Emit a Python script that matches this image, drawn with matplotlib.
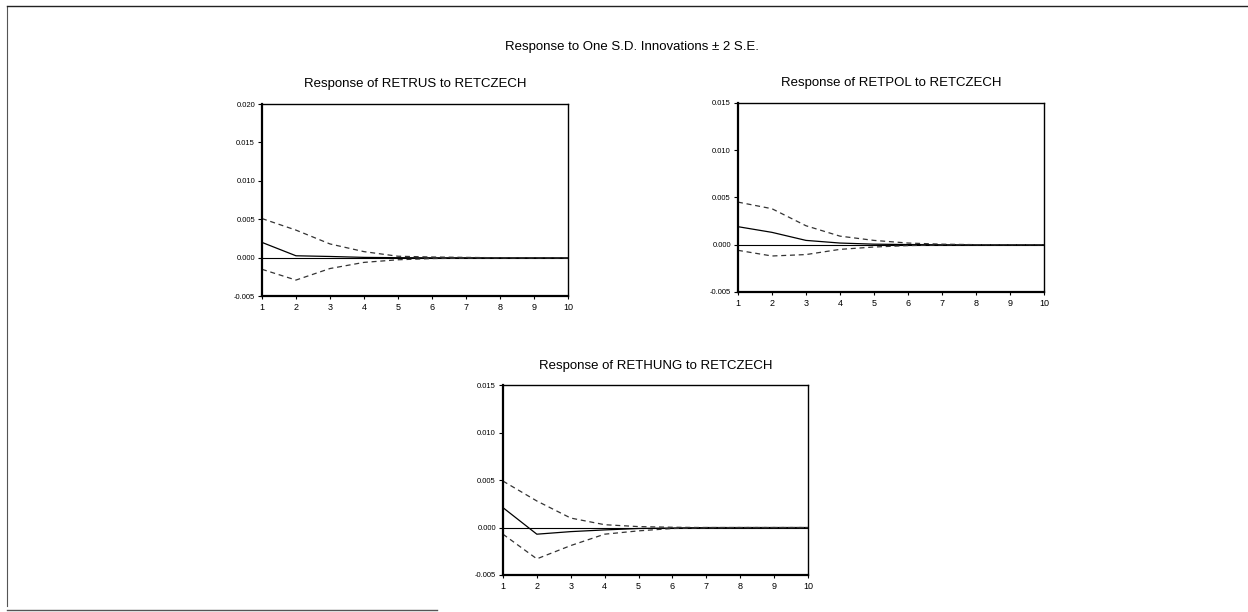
import matplotlib.pyplot as plt
import numpy as np
from matplotlib.lines import Line2D

plt.rcParams['font.family'] = ['Liberation Sans', 'DejaVu Sans']

periodos = np.arange(1, 11)

# RETRUS to RETCZECH
rus_resp = [0.0020, 0.00026, 0.00017, 0.00005, 0.00001, 0.0, 0.0, 0.0, 0.0, 0.0]
rus_sup = [0.0051, 0.0036, 0.0018, 0.0008, 0.0002, 0.0001, 0.00005, 0.0, 0.0, 0.0]
rus_inf = [-0.0015, -0.0029, -0.0014, -0.0006, -0.00026, -0.0001, -0.00005, 0.0, 0.0, 0.0]

# RETPOL to RETCZECH
pol_resp = [0.0019, 0.0013, 0.00045, 0.00017, 0.00005, 0.00001, 0.0, 0.0, 0.0, 0.0]
pol_sup = [0.0045, 0.0038, 0.0020, 0.0009, 0.00045, 0.00017, 0.00005, 0.0, 0.0, 0.0]
pol_inf = [-0.0006, -0.0012, -0.00105, -0.0005, -0.00025, -0.0001, -0.00003, 0.0, 0.0, 0.0]

# RETHUNG to RETCZECH
hun_resp = [0.0021, -0.0007, -0.00043, -0.00025, -0.0001, -0.00005, 0.0, 0.0, 0.0, 0.0]
hun_sup = [0.0049, 0.0028, 0.0010, 0.0003, 0.0001, 0.00003, 0.0, 0.0, 0.0, 0.0]
hun_inf = [-0.0007, -0.0033, -0.0019, -0.0007, -0.00035, -0.0001, -0.00003, 0.0, 0.0, 0.0]

paineis = [
    ('Response of RETRUS to RETCZECH', rus_resp, rus_sup, rus_inf,
     [0.2099, 0.516, 0.2452, 0.314], (-0.005, 0.020), [-0.005, 0.0, 0.005, 0.010, 0.015, 0.020]),
    ('Response of RETPOL to RETCZECH', pol_resp, pol_sup, pol_inf,
     [0.5913, 0.523, 0.2452, 0.309], (-0.005, 0.015), [-0.005, 0.0, 0.005, 0.010, 0.015]),
    ('Response of RETHUNG to RETCZECH', hun_resp, hun_sup, hun_inf,
     [0.4030, 0.0605, 0.2444, 0.310], (-0.005, 0.015), [-0.005, 0.0, 0.005, 0.010, 0.015]),
]

fig = plt.figure(figsize=(12.48, 6.12), dpi=100)

for titulo, resp, sup, inf, pos, lim, yticks in paineis:
    ax = fig.add_axes(pos)
    ax.axhline(0, color='black', lw=0.8)
    ax.plot(periodos, resp, color='black', lw=0.9)
    ax.plot(periodos, sup, color='#333333', lw=0.9, ls=(0, (4, 3)))
    ax.plot(periodos, inf, color='#333333', lw=0.9, ls=(0, (4, 3)))
    ax.set_xlim(1, 10)
    ax.set_ylim(*lim)
    ax.set_xticks(periodos)
    ax.set_yticks(yticks)
    ax.set_yticklabels([f'{v:.3f}' for v in yticks])
    ax.tick_params(labelsize=5.5, length=3, width=0.8, pad=2)
    ax.tick_params(axis='x', direction='out', length=2, labelsize=6.5, pad=3)
    for lado in ['left', 'bottom']:
        ax.spines[lado].set_linewidth(1.6)
    for lado in ['right', 'top']:
        ax.spines[lado].set_linewidth(1.0)
    ax.set_title(titulo, fontsize=9.5, pad=12)

fig.text(0.506, 0.923, 'Response to One S.D. Innovations \u00b1 2 S.E.',
         ha='center', va='center', fontsize=9.5)

# moldura da figura escaneada
fig.add_artist(Line2D([0.0056, 0.0056], [0.01, 0.99], color='#555555', lw=0.8))
fig.add_artist(Line2D([0.0056, 1.0], [0.99, 0.99], color='#222222', lw=1.0))
fig.add_artist(Line2D([0.0056, 0.35], [0.003, 0.003], color='#555555', lw=1.0))

fig.savefig('out.png', dpi=100)
